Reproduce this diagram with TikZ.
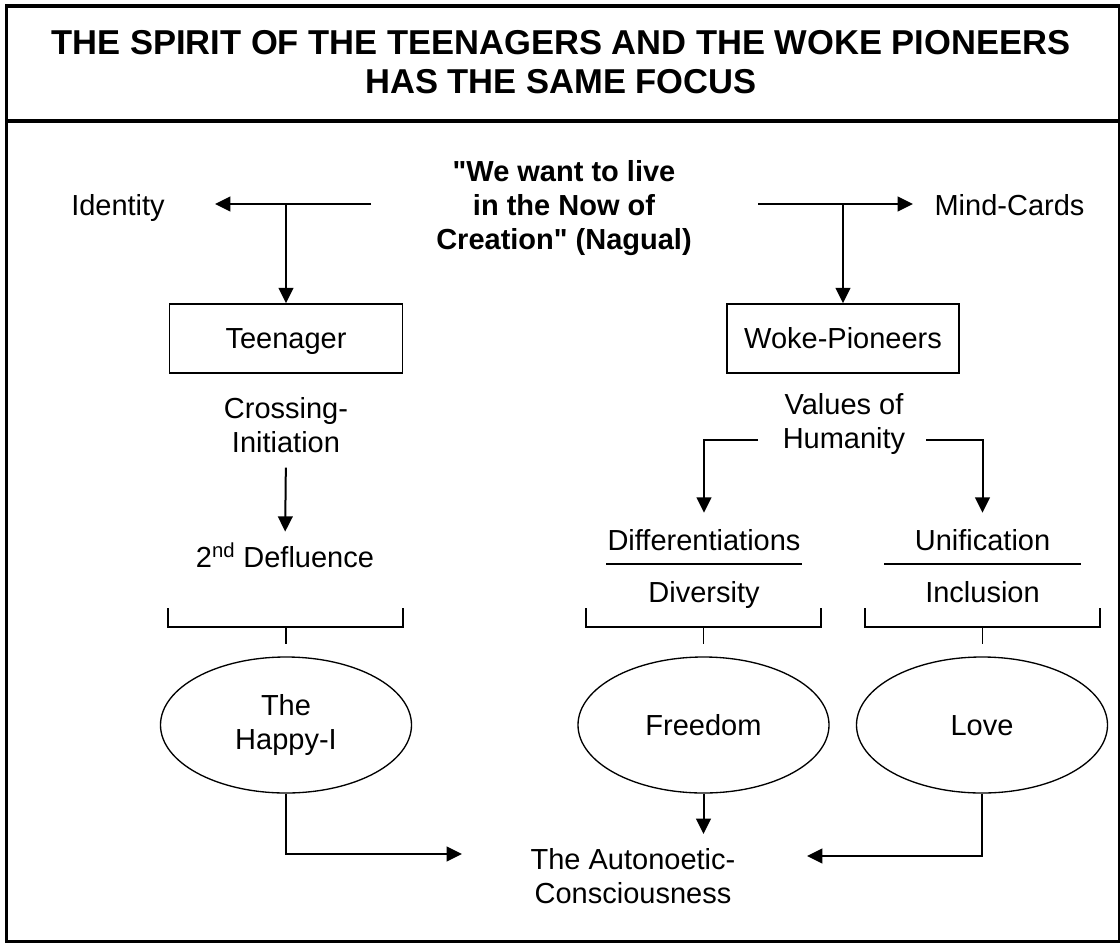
\documentclass[tikz,border=0pt]{standalone}
\usepackage{fontspec}
\setmainfont{Liberation Sans}[Ligatures=TeXOff]
\usetikzlibrary{shapes.geometric,arrows.meta}
\begin{document}
\begin{tikzpicture}[x=0.75pt,y=-0.75pt,
  txt/.style={font=\fontsize{21.75}{25.5}\selectfont, align=center, inner sep=0pt},
  one/.style={txt, text height=15.6pt, text depth=0pt},
  boldtxt/.style={font=\fontsize{21.75}{25.8}\selectfont\bfseries, align=center, inner sep=0pt},
  ttl/.style={font=\fontsize{25.9}{29.3}\selectfont\bfseries, align=center, inner sep=0pt},
  labelbox/.style={one, draw, line width=1.1pt, minimum width=174.5pt, minimum height=51.75pt},
  oval/.style={txt, ellipse, draw, line width=1pt, minimum width=188.25pt, minimum height=102pt},
  ovalone/.style={oval, text height=15.6pt, text depth=0pt},
  conn/.style={line width=1.5pt},
  arr/.style={conn, -{Triangle[length=11.5pt,width=11pt]}},
  brk/.style={line width=0.9pt},
  uline/.style={line width=1.5pt},
  frm/.style={line width=2.4pt}]
\useasboundingbox (0,0) rectangle (1120,942);

% frame and title band
\draw[frm] (6.5,6) rectangle (1119.5,941.5);
\draw[frm] (6.5,121) -- (1119.5,121);
\node[ttl] (title) at (561,62.5) {THE SPIRIT OF THE TEENAGERS AND THE WOKE PIONEERS\\HAS THE SAME FOCUS};

% top texts
\node[boldtxt] (quote) at (564,208) {"We want to live\\in the Now of\\Creation" (Nagual)};
\node[one] (ident) at (118,205) {Identity};
\node[one] (mind) at (1009.5,205) {Mind-Cards};

\coordinate (qL) at (371,204);
\coordinate (qR) at (758,204);
\coordinate (idTip) at (215,204);
\coordinate (mcTip) at (913,204);
\coordinate (jL) at (286,204);
\coordinate (jR) at (843,204);

\node[labelbox] (teen) at (286,338.5) {Teenager};
\node[labelbox, minimum width=174pt] (woke) at (843,338.5) {Woke-Pioneers};

\draw[arr] (qL) -- (idTip);
\draw[arr] (qR) -- (mcTip);
\draw[arr] (jL) -- (teen.north);
\draw[arr] (jR) -- (woke.north);

% left column
\node[txt] (cross) at (286,425) {Crossing-\\Initiation};
\node[one] (defl) at (285,557) {2\textsuperscript{nd} Defluence};
\draw[arr, shorten <=11pt, shorten >=11pt] (cross.south) -- (defl.north);

% right column
\node[txt] (values) at (844,424) {Values of\\Humanity};
\node[one] (diff) at (704,540) {Differentiations};
\node[one] (divers) at (704,592) {Diversity};
\node[one] (unif) at (982.5,540) {Unification};
\node[one] (incl) at (982.5,592) {Inclusion};
\coordinate (vL) at (758,440);
\coordinate (vR) at (926,440);
\draw[arr, shorten >=12.5pt] (vL) -| (diff.north);
\draw[arr, shorten >=12.5pt] (vR) -| (unif.north);
\draw[uline] (606,564) -- (802,564);
\draw[uline] (884,564) -- (1081,564);

% brackets
\draw[brk] (168,608) -- (168,627) -- (403,627) -- (403,608);
\draw[brk] (286,627) -- (286,644);
\draw[brk] (586,608) -- (586,627) -- (821,627) -- (821,608);
\draw[brk] (703.5,627) -- (703.5,644);
\draw[brk] (865,608) -- (865,627) -- (1100,627) -- (1100,608);
\draw[brk] (982.5,627) -- (982.5,644);

% ellipses
\node[oval] (happy) at (286,725) {The\\Happy-I};
\node[ovalone] (free) at (703.5,725) {Freedom};
\node[ovalone] (love) at (982,725) {Love};

% result
\node[txt] (auto) at (633,876) {The Autonoetic-\\Consciousness};
\coordinate (aL) at (462,854);
\coordinate (aM) at (703.5,834);
\coordinate (aR) at (807,856);
\draw[arr] (happy.south) |- (aL);
\draw[arr] (free.south) -- (aM);
\draw[arr] (love.south) |- (aR);
\end{tikzpicture}
\end{document}
